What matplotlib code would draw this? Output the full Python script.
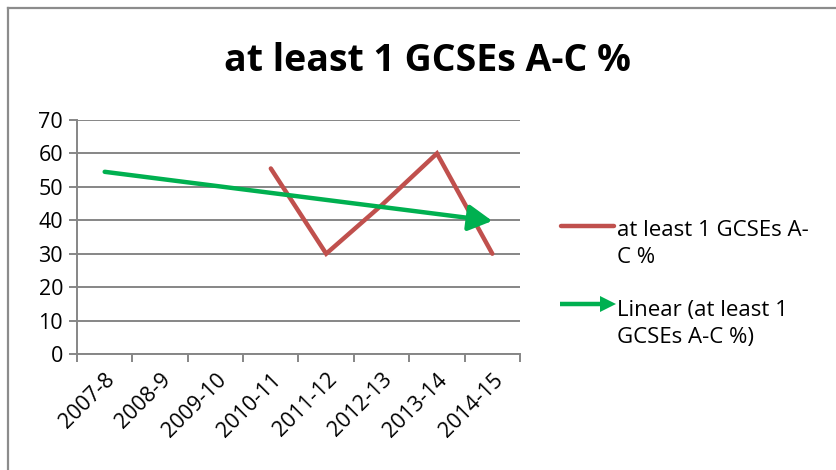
import numpy as np
import matplotlib
matplotlib.use("Agg")
import matplotlib.pyplot as plt
from matplotlib.lines import Line2D
from matplotlib.patches import FancyArrow

# --- data ---
years = ["2007-8", "2008-9", "2009-10", "2010-11", "2011-12", "2012-13", "2013-14", "2014-15"]
pct = [np.nan, np.nan, np.nan, 55.5, 30, 44.5, 60, 30]
title = "at least 1 GCSEs A-C %"
series_label = "at least 1 GCSEs A-\nC %"
trend_label = "Linear (at least 1\nGCSEs A-C %)"

red = "#C0504D"
green = "#00B050"
grid_col = "#868686"

plt.rcParams["font.family"] = ["Open Sans", "DejaVu Sans"]

W, H = 836, 470
fig = plt.figure(figsize=(W / 100, H / 100), dpi=100)

# outer chart frame (top and left edges visible)
fig.add_artist(Line2D([8 / W, 1], [1 - 8 / H, 1 - 8 / H], color="#8c8c8c", lw=1.6))
fig.add_artist(Line2D([8 / W, 8 / W], [0, 1 - 8 / H], color="#8c8c8c", lw=1.6))

ax = fig.add_axes([77 / W, (H - 354) / H, (520 - 77) / W, (354 - 120) / H])

x = np.arange(len(years))
y = np.array(pct, dtype=float)
ax.plot(x, y, color=red, lw=3.2, solid_capstyle="round", solid_joinstyle="miter", zorder=3)

# linear trend fitted on available points
ok = ~np.isnan(y)
slope, icpt = np.polyfit(x[ok], y[ok], 1)
ax.annotate("", xy=(x[-1], slope * x[-1] + icpt), xytext=(x[0], slope * x[0] + icpt),
            arrowprops=dict(arrowstyle="-|>,head_length=0.6,head_width=0.33", color=green,
                            lw=3.2, shrinkA=0, shrinkB=0, mutation_scale=24),
            zorder=4)

ax.set_xlim(-0.5, len(years) - 0.5)
ax.set_ylim(0, 70)
ax.set_yticks(np.arange(0, 71, 10))
ax.yaxis.grid(True, color=grid_col, lw=1.4)
ax.set_axisbelow(True)

ax.set_xticks(x)
ax.set_xticklabels(years, rotation=45, ha="right", rotation_mode="anchor", fontsize=15.5)
ax.set_xticks(np.arange(-0.5, len(years)), minor=True)
ax.tick_params(axis="x", which="major", length=0, pad=11)
ax.tick_params(axis="x", which="minor", length=6, width=1.4, color=grid_col, direction="out")
ax.tick_params(axis="y", length=6, width=1.4, color=grid_col, labelsize=15.5, pad=4)

for s in ["top", "right"]:
    ax.spines[s].set_visible(False)
for s in ["left", "bottom"]:
    ax.spines[s].set_color(grid_col)
    ax.spines[s].set_linewidth(1.4)

fig.text(427 / W, 1 - 61 / H, title, ha="center", va="center", fontsize=27, fontweight="bold")

# legend drawn by hand to match the layout
fig.add_artist(Line2D([561 / W, 614 / W], [1 - 226 / H, 1 - 226 / H], color=red, lw=3.2,
                      solid_capstyle="round"))
fig.text(617 / W, 1 - 244 / H, series_label, ha="left", va="center", fontsize=16, linespacing=1.4)
fig.add_artist(FancyArrow(560 / W, 1 - 304 / H, 56 / W, 0, width=4.5 / H, head_width=16 / H,
                          head_length=16 / W, length_includes_head=True, color=green, lw=0,
                          transform=fig.transFigure))
fig.text(617 / W, 1 - 324 / H, trend_label, ha="left", va="center", fontsize=16, linespacing=1.4)

fig.savefig("out.png", dpi=100)
